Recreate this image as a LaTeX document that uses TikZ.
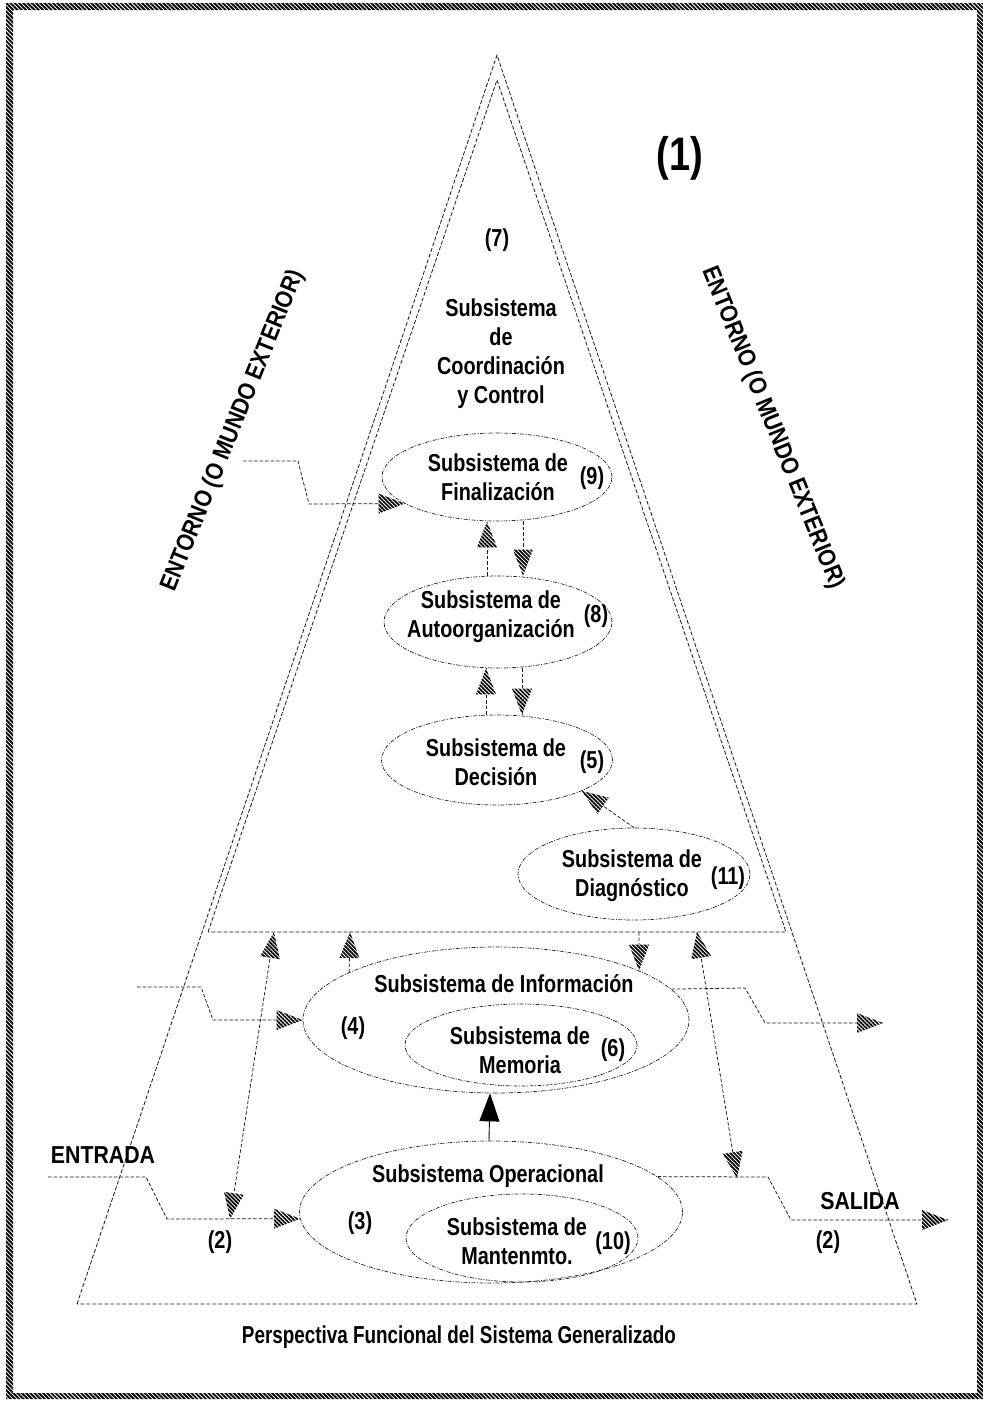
\documentclass[tikz,border=0pt]{standalone}
\usepackage{fontspec}
\setmainfont{Liberation Sans}[FakeStretch=0.81]
\newfontfamily\capsfont{Liberation Sans}[FakeStretch=0.87]
\newfontfamily\captfont{Liberation Sans}[FakeStretch=0.77]
\usetikzlibrary{shapes.geometric, patterns.meta, decorations.markings, arrows.meta}
\tikzset{
  hatch/.style={pattern={Lines[angle=-45,distance=2.8pt,line width=1.7pt]}, pattern color=black},
  framehatch/.style={pattern={Lines[angle=-45,distance=3pt,line width=1.9pt]}, pattern color=black},
}
\newcommand\tipEnd{\fill[white] (0pt,0pt) -- (-26pt,10pt) -- (-26pt,-10pt) -- cycle;
  \fill[hatch] (0pt,0pt) -- (-26pt,10pt) -- (-26pt,-10pt) -- cycle;}
\newcommand\tipStart{\fill[white] (0pt,0pt) -- (26pt,10pt) -- (26pt,-10pt) -- cycle;
  \fill[hatch] (0pt,0pt) -- (26pt,10pt) -- (26pt,-10pt) -- cycle;}
\tikzset{
  tri/.style={line width=0.8pt, dash pattern=on 4pt off 2pt, black!90},
  conn/.style={line width=0.75pt, dash pattern=on 3.5pt off 2pt, black!90},
  hend/.style={postaction={decorate,decoration={markings,mark=at position 1 with {\tipEnd}}}},
  hstart/.style={postaction={decorate,decoration={markings,mark=at position 0 with {\tipStart}}}},
  ell/.style={ellipse, draw=black!85, line width=0.7pt, dash pattern=on 4pt off 1.5pt on 1pt off 1.5pt, inner sep=0pt},
  txt/.style={font=\fontsize{24.5}{29}\selectfont\bfseries, align=center, inner sep=0pt},
  captxt/.style={font=\fontsize{24.5}{29}\selectfont\capsfont\bfseries, align=center, inner sep=0pt},
}
\begin{document}
\begin{tikzpicture}[x=1pt,y=-1pt]
\useasboundingbox (0,0) rectangle (983,1401);
\fill[framehatch, even odd rule] (6,3) rectangle (983,1399) (13,10) rectangle (977,1393);

% triangles
\coordinate (oL) at (77,1304); \coordinate (oT) at (497,55); \coordinate (oR) at (917,1304);
\coordinate (iL) at (208,932); \coordinate (iT) at (497,80); \coordinate (iR) at (786,932);
\draw[tri] (oL) -- (oT) -- (oR) -- cycle;
\draw[tri] (iL) -- (iT) -- (iR) -- cycle;

% ellipses
\node[ell, minimum width=230pt, minimum height=88pt] (e9) at (497,477) {};
\node[ell, minimum width=228pt, minimum height=92pt] (e8) at (498,622) {};
\node[ell, minimum width=231pt, minimum height=90pt] (e5) at (497,760) {};
\node[ell, minimum width=232pt, minimum height=92pt] (e11) at (634,874) {};
\node[ell, minimum width=386pt, minimum height=146pt] (e4) at (496,1020) {};
\node[ell, minimum width=232pt, minimum height=82pt] (e6) at (521,1045) {};
\node[ell, minimum width=383pt, minimum height=142pt] (e3) at (491,1212) {};
\node[ell, minimum width=232pt, minimum height=88pt] (e10) at (522,1238) {};

% texts
\node[txt] (t1) at (680,158) {\fontsize{47}{51}\selectfont (1)};
\node[txt] (t7) at (497,240) {(7)};
\node[txt] (tc) at (501,354) {Subsistema\\de\\Coordinación\\y Control};
\node[txt] (t9a) at (498,477) {Subsistema de\\Finalización};
\node[txt] (t9) at (592,478) {(9)};
\node[txt] (t8a) at (491,617) {Subsistema de\\Autoorganización};
\node[txt] (t8) at (596,616) {(8)};
\node[txt] (t5a) at (496,762) {Subsistema de\\Decisión};
\node[txt] (t5) at (592,762) {(5)};
\node[txt] (t11a) at (632,876) {Subsistema de\\Diagnóstico};
\node[txt] (t11) at (728,878) {(11)};
\node[txt] (t4a) at (504,984) {Subsistema de Información};
\node[txt] (t4) at (353,1028) {(4)};
\node[txt] (t6a) at (520,1050) {Subsistema de\\Memoria};
\node[txt] (t6) at (613,1050) {(6)};
\node[txt] (t3a) at (488,1176) {Subsistema Operacional};
\node[txt] (t3) at (360,1223) {(3)};
\node[txt] (t10a) at (517,1241) {Subsistema de\\Mantenmto.};
\node[txt] (t10) at (613,1243) {(10)};
\node[captxt] (tin) at (103,1155) {ENTRADA};
\node[captxt] (tout) at (860,1201) {SALIDA};
\node[txt] (t2a) at (220,1242) {(2)};
\node[txt] (t2b) at (828,1242) {(2)};
\node[txt, font=\fontsize{24.5}{29}\selectfont\captfont\bfseries] (tcap) at (459,1337) {Perspectiva Funcional del Sistema Generalizado};
\node[captxt, rotate=68] (envL) at (233,431) {ENTORNO (O MUNDO EXTERIOR)};
\node[captxt, rotate=-68] (envR) at (773,428) {ENTORNO (O MUNDO EXTERIOR)};

% connectors
\coordinate (srcEnv) at (243,461);
\draw[conn,hend] (srcEnv) -- (298,461) -- (309,504) -- (e9.196);
\draw[conn,hend] ([xshift=-11pt]e8.north) -- ([xshift=-10pt]e9.south);
\draw[conn,hend] ([xshift=26pt]e9.south) -- ([xshift=25pt]e8.north);
\draw[conn,hend] ([xshift=-11pt]e5.north) -- ([xshift=-12pt]e8.south);
\draw[conn,hend] ([xshift=24pt]e8.south) -- ([xshift=25pt]e5.north);
\draw[conn,hend] (e11.north) -- (e5.340);

\coordinate (b1) at (274,932);
\coordinate (b2) at (350,932);
\coordinate (b3) at (639,932);
\coordinate (b4) at (697,932);
\coordinate (j1) at (230,1219);
\coordinate (j2) at (737,1178);
\draw[conn,hstart,hend] (b1) -- (j1);
\draw[conn,hend] (e4.162) -- (b2);
\draw[conn,hend] (b3) -- (e4.19);
\draw[conn,hstart,hend] (b4) -- (j2);

\coordinate (srcInfo) at (137,987);
\draw[conn,hend] (srcInfo) -- (201,987) -- (213,1020) -- (e4.west);
\coordinate (dstInfo) at (883,1023);
\draw[conn,hend] (e4.10) -- (745,988) -- (765,1023) -- (dstInfo);

\coordinate (srcE) at (48,1177);
\draw[conn,hend] (srcE) -- (146,1177) -- (167,1219) -- (e3.182);
\coordinate (dstS) at (948,1220);
\draw[conn,hend] (e3.12) -- (768,1177) -- (791,1220) -- (dstS);

\draw[line width=0.9pt, -{Triangle[length=28pt,width=20pt]}] ([xshift=-2pt]e3.north) -- ([xshift=-6pt]e4.south);
\end{tikzpicture}
\end{document}
